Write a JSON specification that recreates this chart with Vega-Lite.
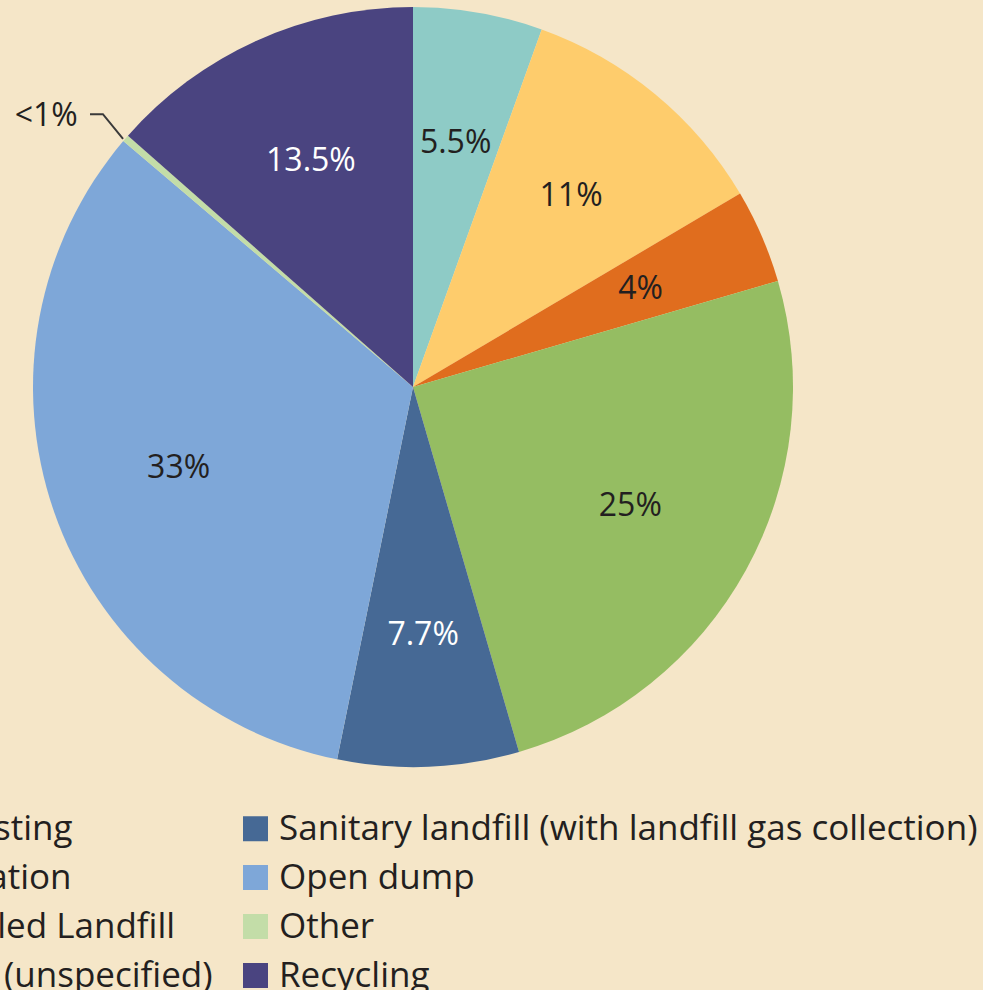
{
  "$schema": "https://vega.github.io/schema/vega-lite/v6.json",
  "width": 826,
  "height": 774,
  "autosize": {"type": "none"},
  "padding": {"left": 0, "top": 0, "right": 157, "bottom": 216},
  "background": "#F5E6C8",
  "config": {"view": {"stroke": null}, "font": "Open Sans"},
  "layer": [
    {
      "data": {"values": [
        {"category": "Composting", "value": 5.5, "order": 1, "label": "5.5%", "textColor": "dark"},
        {"category": "Incineration", "value": 11, "order": 2, "label": "11%", "textColor": "dark"},
        {"category": "Controlled Landfill", "value": 4, "order": 3, "label": "4%", "textColor": "dark"},
        {"category": "Landfill (unspecified)", "value": 25, "order": 4, "label": "25%", "textColor": "dark"},
        {"category": "Sanitary landfill (with landfill gas collection)", "value": 7.7, "order": 5, "label": "7.7%", "textColor": "light"},
        {"category": "Open dump", "value": 33, "order": 6, "label": "33%", "textColor": "dark"},
        {"category": "Other", "value": 0.3, "order": 7, "label": "", "textColor": "dark"},
        {"category": "Recycling", "value": 13.5, "order": 8, "label": "13.5%", "textColor": "light"}
      ]},
      "encoding": {
        "theta": {"field": "value", "type": "quantitative", "stack": true},
        "order": {"field": "order", "type": "quantitative"}
      },
      "layer": [
        {
          "mark": {"type": "arc", "radius": 380},
          "encoding": {
            "color": {
              "field": "category",
              "type": "nominal",
              "scale": {
                "domain": ["Composting", "Incineration", "Controlled Landfill", "Landfill (unspecified)", "Sanitary landfill (with landfill gas collection)", "Open dump", "Other", "Recycling"],
                "range": ["#8ECBC6", "#FECC6C", "#E06D1E", "#95BD62", "#466995", "#7EA7D8", "#C3DDA8", "#4A4480"]
              },
              "legend": {
                "title": null,
                "orient": "none",
                "legendX": -165,
                "legendY": 811,
                "columns": 2,
                "direction": "vertical",
                "symbolType": "square",
                "symbolSize": 625,
                "symbolStrokeWidth": 0,
                "symbolOpacity": 1,
                "labelFontSize": 35,
                "labelColor": "#231F20",
                "labelFont": "Open Sans",
                "labelOffset": 6,
                "labelLimit": 1000,
                "rowPadding": 13,
                "columnPadding": 25,
                "padding": 0
              }
            }
          }
        },
        {
          "mark": {"type": "text", "radius": 248, "fontSize": 32, "font": "Open Sans"},
          "encoding": {
            "text": {"field": "label"},
            "color": {
              "condition": {"test": "datum.textColor === 'light'", "value": "#FFFFFF"},
              "value": "#231F20"
            }
          }
        }
      ]
    },
    {
      "data": {"values": [
        {"px": -0.850, "py": 0.718, "seq": 1},
        {"px": -0.816, "py": 0.718, "seq": 2},
        {"px": -0.763, "py": 0.653, "seq": 3}
      ]},
      "mark": {"type": "line", "color": "#3A3A3A", "strokeWidth": 2},
      "encoding": {
        "x": {"field": "px", "type": "quantitative", "scale": {"domain": [-1.0868, 1.0868]}, "axis": null},
        "y": {"field": "py", "type": "quantitative", "scale": {"domain": [-1.0184, 1.0184]}, "axis": null},
        "order": {"field": "seq"}
      }
    },
    {
      "data": {"values": [{"px": -0.882, "py": 0.714, "t": "<1%"}]},
      "mark": {"type": "text", "align": "right", "baseline": "middle", "fontSize": 32, "font": "Open Sans", "color": "#231F20"},
      "encoding": {
        "x": {"field": "px", "type": "quantitative", "scale": {"domain": [-1.0868, 1.0868]}, "axis": null},
        "y": {"field": "py", "type": "quantitative", "scale": {"domain": [-1.0184, 1.0184]}, "axis": null},
        "text": {"field": "t"}
      }
    }
  ]
}
